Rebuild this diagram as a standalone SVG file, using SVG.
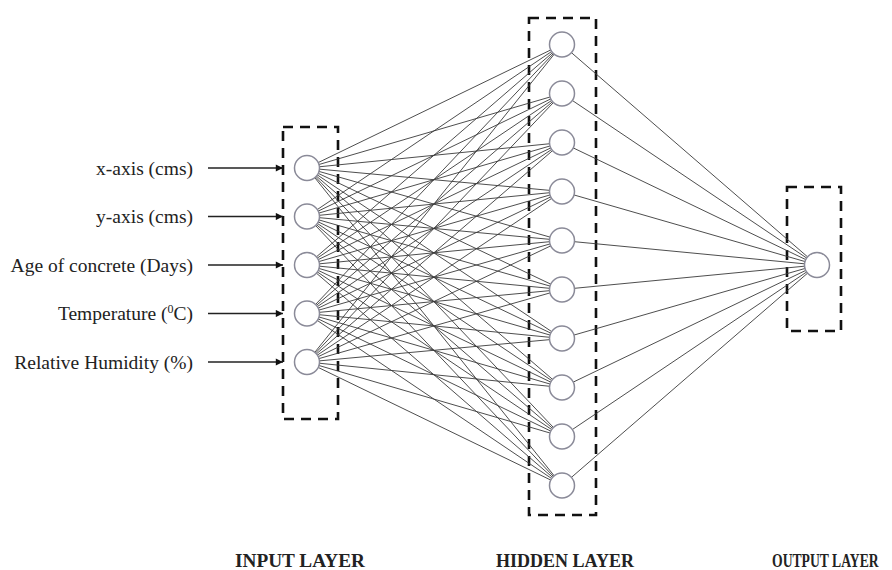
<svg xmlns="http://www.w3.org/2000/svg" width="892" height="570" viewBox="0 0 892 570">
<style>
.lbl{font-family:"Liberation Serif","Times New Roman",serif;font-size:19.5px;fill:#222;text-anchor:end}
.ttl{font-family:"Liberation Serif","Times New Roman",serif;font-size:18px;font-weight:bold;fill:#222}
.box{fill:none;stroke:#111;stroke-width:2.6;stroke-dasharray:10,7}
.node{fill:#fff;stroke:#8a8a98;stroke-width:1.5}
.c line{stroke:#3a3a3a;stroke-width:0.9}
.c line.arr{stroke:#222;stroke-width:1.6;marker-end:url(#ah)}
</style>
<defs>
<marker id="ah" viewBox="0 0 10 10" refX="10" refY="5" markerWidth="5.5" markerHeight="4.5" orient="auto" markerUnits="strokeWidth">
<path d="M0,0 L10,5 L0,10 z" fill="#111"/>
</marker>
</defs>
<rect width="892" height="570" fill="#fff"/>
<g id="boxes">
<rect class="box" x="283" y="127" width="55" height="292"/>
<rect class="box" x="529" y="18" width="67" height="497"/>
<rect class="box" x="787" y="187" width="54" height="144"/>
</g>
<g id="connectors" class="c">
<line x1="307" y1="168" x2="562" y2="44.5"/><line x1="307" y1="168" x2="562" y2="93.5"/><line x1="307" y1="168" x2="562" y2="142.5"/><line x1="307" y1="168" x2="562" y2="191.5"/><line x1="307" y1="168" x2="562" y2="240.5"/><line x1="307" y1="168" x2="562" y2="289.5"/><line x1="307" y1="168" x2="562" y2="338.5"/><line x1="307" y1="168" x2="562" y2="387.5"/><line x1="307" y1="168" x2="562" y2="436.5"/><line x1="307" y1="168" x2="562" y2="485.5"/>
<line x1="307" y1="216.5" x2="562" y2="44.5"/><line x1="307" y1="216.5" x2="562" y2="93.5"/><line x1="307" y1="216.5" x2="562" y2="142.5"/><line x1="307" y1="216.5" x2="562" y2="191.5"/><line x1="307" y1="216.5" x2="562" y2="240.5"/><line x1="307" y1="216.5" x2="562" y2="289.5"/><line x1="307" y1="216.5" x2="562" y2="338.5"/><line x1="307" y1="216.5" x2="562" y2="387.5"/><line x1="307" y1="216.5" x2="562" y2="436.5"/><line x1="307" y1="216.5" x2="562" y2="485.5"/>
<line x1="307" y1="265" x2="562" y2="44.5"/><line x1="307" y1="265" x2="562" y2="93.5"/><line x1="307" y1="265" x2="562" y2="142.5"/><line x1="307" y1="265" x2="562" y2="191.5"/><line x1="307" y1="265" x2="562" y2="240.5"/><line x1="307" y1="265" x2="562" y2="289.5"/><line x1="307" y1="265" x2="562" y2="338.5"/><line x1="307" y1="265" x2="562" y2="387.5"/><line x1="307" y1="265" x2="562" y2="436.5"/><line x1="307" y1="265" x2="562" y2="485.5"/>
<line x1="307" y1="313.5" x2="562" y2="44.5"/><line x1="307" y1="313.5" x2="562" y2="93.5"/><line x1="307" y1="313.5" x2="562" y2="142.5"/><line x1="307" y1="313.5" x2="562" y2="191.5"/><line x1="307" y1="313.5" x2="562" y2="240.5"/><line x1="307" y1="313.5" x2="562" y2="289.5"/><line x1="307" y1="313.5" x2="562" y2="338.5"/><line x1="307" y1="313.5" x2="562" y2="387.5"/><line x1="307" y1="313.5" x2="562" y2="436.5"/><line x1="307" y1="313.5" x2="562" y2="485.5"/>
<line x1="307" y1="362" x2="562" y2="44.5"/><line x1="307" y1="362" x2="562" y2="93.5"/><line x1="307" y1="362" x2="562" y2="142.5"/><line x1="307" y1="362" x2="562" y2="191.5"/><line x1="307" y1="362" x2="562" y2="240.5"/><line x1="307" y1="362" x2="562" y2="289.5"/><line x1="307" y1="362" x2="562" y2="338.5"/><line x1="307" y1="362" x2="562" y2="387.5"/><line x1="307" y1="362" x2="562" y2="436.5"/><line x1="307" y1="362" x2="562" y2="485.5"/>
<line x1="562" y1="44.5" x2="817" y2="265"/><line x1="562" y1="93.5" x2="817" y2="265"/><line x1="562" y1="142.5" x2="817" y2="265"/><line x1="562" y1="191.5" x2="817" y2="265"/><line x1="562" y1="240.5" x2="817" y2="265"/><line x1="562" y1="289.5" x2="817" y2="265"/><line x1="562" y1="338.5" x2="817" y2="265"/><line x1="562" y1="387.5" x2="817" y2="265"/><line x1="562" y1="436.5" x2="817" y2="265"/><line x1="562" y1="485.5" x2="817" y2="265"/>
<line class="arr" x1="208" y1="168" x2="283" y2="168"/>
<line class="arr" x1="208" y1="216.5" x2="283" y2="216.5"/>
<line class="arr" x1="208" y1="265" x2="283" y2="265"/>
<line class="arr" x1="208" y1="313.5" x2="283" y2="313.5"/>
<line class="arr" x1="208" y1="362" x2="283" y2="362"/>
</g>
<g id="in1"><circle class="node" cx="307" cy="168" r="12.5"/><text class="lbl" x="193" y="174.5">x-axis (cms)</text></g>
<g id="in2"><circle class="node" cx="307" cy="216.5" r="12.5"/><text class="lbl" x="193" y="223">y-axis (cms)</text></g>
<g id="in3"><circle class="node" cx="307" cy="265" r="12.5"/><text class="lbl" x="193" y="271.5">Age of concrete (Days)</text></g>
<g id="in4"><circle class="node" cx="307" cy="313.5" r="12.5"/><text class="lbl" x="193" y="320">Temperature (<tspan font-size="12" dy="-7">0</tspan><tspan dy="7">C)</tspan></text></g>
<g id="in5"><circle class="node" cx="307" cy="362" r="12.5"/><text class="lbl" x="193" y="368.5">Relative Humidity (%)</text></g>
<g id="h1"><circle class="node" cx="562" cy="44.5" r="12.5"/></g>
<g id="h2"><circle class="node" cx="562" cy="93.5" r="12.5"/></g>
<g id="h3"><circle class="node" cx="562" cy="142.5" r="12.5"/></g>
<g id="h4"><circle class="node" cx="562" cy="191.5" r="12.5"/></g>
<g id="h5"><circle class="node" cx="562" cy="240.5" r="12.5"/></g>
<g id="h6"><circle class="node" cx="562" cy="289.5" r="12.5"/></g>
<g id="h7"><circle class="node" cx="562" cy="338.5" r="12.5"/></g>
<g id="h8"><circle class="node" cx="562" cy="387.5" r="12.5"/></g>
<g id="h9"><circle class="node" cx="562" cy="436.5" r="12.5"/></g>
<g id="h10"><circle class="node" cx="562" cy="485.5" r="12.5"/></g>
<g id="out1"><circle class="node" cx="817" cy="265" r="12.5"/></g>
<g id="titles">
<text class="ttl" x="235" y="567" textLength="130" lengthAdjust="spacingAndGlyphs">INPUT LAYER</text>
<text class="ttl" x="496" y="567" textLength="138" lengthAdjust="spacingAndGlyphs">HIDDEN LAYER</text>
<text class="ttl" transform="translate(772,567) scale(0.76,1)" x="0" y="0">OUTPUT LAYER</text>
</g>
</svg>
